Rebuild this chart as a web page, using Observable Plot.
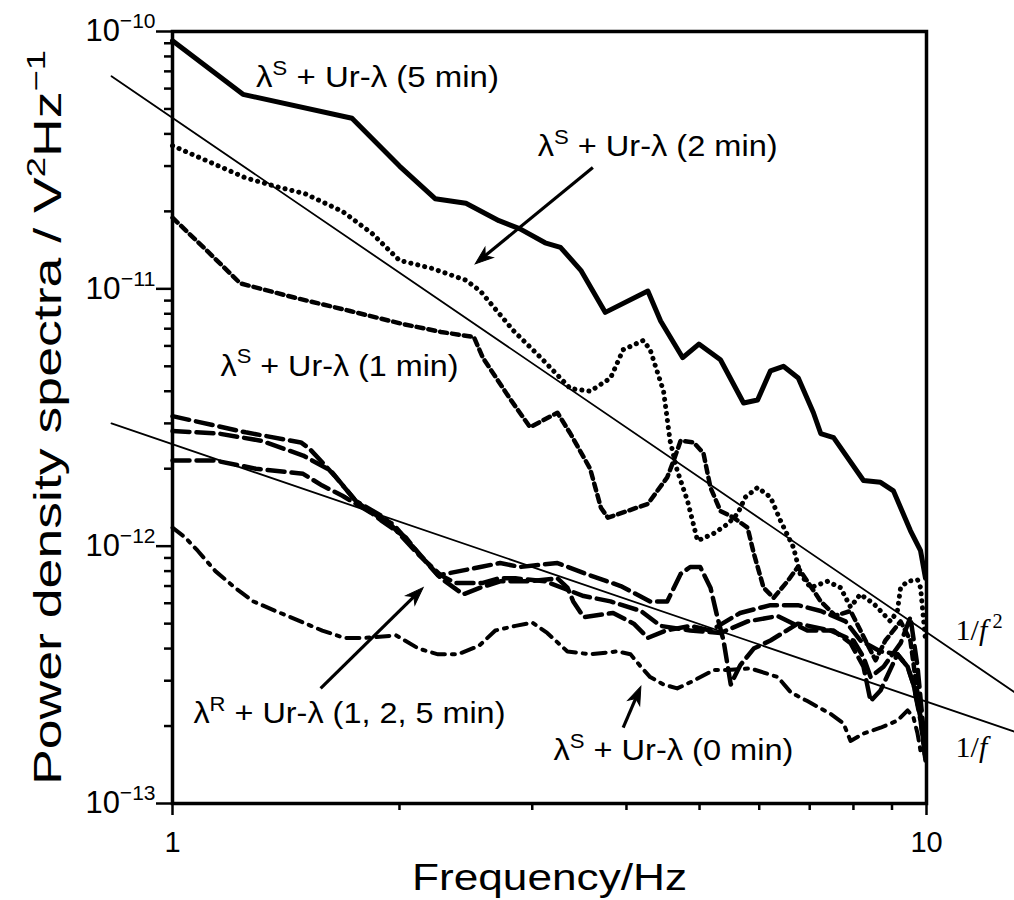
<!DOCTYPE html>
<html><head><meta charset="utf-8">
<script src="https://cdn.jsdelivr.net/npm/d3@7"></script>
<script src="https://cdn.jsdelivr.net/npm/@observablehq/plot@0.6"></script>
<style>
body{margin:0;background:#fff;}
#chart svg{font-family:"Liberation Sans",Arial,sans-serif;background:#fff;}
</style></head><body><div id="chart"></div>
<script>
// ---- data (frequency in Hz, PSD in V^2/Hz) ----
const f5min = [1.00,1.24,1.73,2.00,2.23,2.45,2.71,2.89,3.12,3.27,3.48,3.75,4.27,4.44,4.75,4.99,5.33,5.72,5.97,6.21,6.46,6.76,7.08,7.24,7.53,8.25,8.69,9.04,9.52,9.82,9.97];
const psd5min = [9.2e-11,5.7e-11,4.6e-11,3.0e-11,2.24e-11,2.15e-11,1.84e-11,1.71e-11,1.51e-11,1.45e-11,1.18e-11,8.1e-12,9.8e-12,7.5e-12,5.4e-12,6.1e-12,5.3e-12,3.6e-12,3.7e-12,4.8e-12,5.0e-12,4.5e-12,3.3e-12,2.74e-12,2.64e-12,1.8e-12,1.77e-12,1.64e-12,1.15e-12,9.6e-13,7.5e-13];

const f2min = [1.00,1.25,1.37,1.50,1.68,1.84,2.00,2.21,2.45,2.56,2.83,3.08,3.37,3.58,3.81,3.96,4.21,4.30,4.48,4.57,4.67,4.82,4.97,5.22,5.45,5.62,5.75,5.97,6.21,6.40,6.66,6.80,7.02,7.39,7.69,7.93,8.17,8.51,8.96,9.15,9.24,9.44,9.73,9.82,9.97];
const psd2min = [3.6e-11,2.7e-11,2.5e-11,2.34e-11,2.0e-11,1.64e-11,1.29e-11,1.2e-11,1.08e-11,9.8e-12,6.9e-12,5.4e-12,4.1e-12,4.0e-12,4.5e-12,5.8e-12,6.3e-12,5.8e-12,4.0e-12,2.57e-12,1.97e-12,1.5e-12,1.05e-12,1.12e-12,1.22e-12,1.34e-12,1.55e-12,1.69e-12,1.55e-12,1.26e-12,9.9e-13,7.8e-13,6.9e-13,7.3e-13,6.9e-13,5.8e-13,6.5e-13,5.98e-13,5.1e-13,5.6e-13,6.9e-13,7.3e-13,7.4e-13,6.9e-13,4.3e-13];

const f1min = [1.00,1.11,1.23,1.45,1.72,2.02,2.27,2.51,2.58,2.81,2.98,3.24,3.37,3.58,3.70,3.78,4.27,4.53,4.62,4.72,4.91,5.06,5.17,5.33,5.55,5.79,5.90,6.08,6.27,6.54,6.75,6.95,7.24,7.57,7.93,8.30,8.56,8.82,9.24,9.52,9.76,9.97];
const psd1min = [1.89e-11,1.41e-11,1.05e-11,9.25e-12,8.2e-12,7.3e-12,6.8e-12,6.5e-12,5.4e-12,3.7e-12,2.9e-12,3.3e-12,2.74e-12,2.0e-12,1.41e-12,1.29e-12,1.46e-12,1.85e-12,2.15e-12,2.57e-12,2.53e-12,2.3e-12,1.69e-12,1.37e-12,1.29e-12,1.18e-12,9.4e-13,6.9e-13,6.3e-13,7.3e-13,8.3e-13,7.3e-13,6.1e-13,5.37e-13,5.6e-13,4.3e-13,3.6e-13,4.3e-13,5.1e-13,4.3e-13,2.5e-13,1.47e-13];

const f0min = [1.00,1.04,1.08,1.14,1.21,1.28,1.37,1.49,1.58,1.69,1.80,1.98,2.12,2.25,2.39,2.55,2.68,2.85,3.00,3.14,3.34,3.58,3.89,4.05,4.18,4.30,4.48,4.67,4.91,5.22,5.45,5.84,6.35,6.61,6.95,7.46,7.76,7.93,8.25,8.69,9.15,9.44,9.61,9.73,9.82];
const psd0min = [1.18e-12,1.08e-12,9.6e-13,8.0e-13,6.9e-13,6.1e-13,5.6e-13,5.05e-13,4.7e-13,4.4e-13,4.4e-13,4.5e-13,4.0e-13,3.8e-13,3.8e-13,4.1e-13,4.7e-13,4.9e-13,5.05e-13,4.6e-13,3.9e-13,3.8e-13,3.9e-13,3.8e-13,3.4e-13,3.1e-13,2.9e-13,2.8e-13,3.0e-13,3.3e-13,3.3e-13,3.35e-13,3.1e-13,2.7e-13,2.5e-13,2.23e-13,2.05e-13,1.75e-13,1.87e-13,1.97e-13,2.1e-13,2.3e-13,2.16e-13,1.87e-13,1.6e-13];

const fR1 = [1.00,1.25,1.48,1.52,1.64,1.75,1.89,2.04,2.13,2.25,2.56,2.72,2.89,3.24,3.58,3.93,4.30,4.53,4.72,4.86,5.01,5.17,5.28,5.38,5.50,5.66,5.90,6.21,6.75,7.46,8.00,8.25,8.43,8.77,9.24,9.52,9.73,9.97];
const psdR1 = [3.2e-12,2.77e-12,2.53e-12,2.39e-12,1.88e-12,1.5e-12,1.26e-12,1.08e-12,9.2e-13,7.7e-13,8.3e-13,8.6e-13,8.3e-13,8.6e-13,7.7e-13,7.0e-13,6.1e-13,6.1e-13,7.8e-13,8.3e-13,8.3e-13,6.9e-13,5.3e-13,4.3e-13,2.9e-13,3.44e-13,4.0e-13,4.3e-13,5.0e-13,4.7e-13,4.3e-13,3.7e-13,3.1e-13,3.4e-13,4.2e-13,5.3e-13,3.4e-13,1.6e-13];
const fR2 = [1.00,1.15,1.31,1.49,1.62,1.75,1.91,2.11,2.27,2.37,2.58,2.71,2.85,3.12,3.51,3.81,4.18,4.44,4.86,5.33,5.79,6.35,6.95,7.53,7.93,8.25,8.43,8.69,9.15,9.44,9.61,9.82,9.97];
const psdR2 = [2.8e-12,2.74e-12,2.57e-12,2.25e-12,1.97e-12,1.5e-12,1.29e-12,9.4e-13,7.7e-13,7.2e-13,7.2e-13,7.5e-13,7.5e-13,7.3e-13,6.4e-13,6.1e-13,5.6e-13,4.9e-13,4.7e-13,4.6e-13,5.1e-13,5.35e-13,4.7e-13,4.7e-13,4.2e-13,3.4e-13,2.5e-13,2.75e-13,3.8e-13,3.4e-13,2.9e-13,2.1e-13,1.47e-13];
const fR3 = [1.00,1.14,1.29,1.49,1.58,1.68,1.84,1.96,2.12,2.27,2.43,2.56,2.72,2.98,3.24,3.34,3.40,3.51,3.84,4.09,4.27,4.51,4.86,5.17,5.66,6.21,6.75,7.24,7.81,8.17,8.69,9.15,9.44,9.61,9.97];
const psdR3 = [2.15e-12,2.15e-12,2.0e-12,1.91e-12,1.72e-12,1.57e-12,1.34e-12,1.22e-12,9.4e-13,7.5e-13,6.5e-13,6.9e-13,7.3e-13,7.3e-13,7.5e-13,6.9e-13,6.1e-13,5.3e-13,5.5e-13,5.0e-13,4.4e-13,4.7e-13,4.9e-13,4.7e-13,5.5e-13,5.9e-13,5.9e-13,5.6e-13,5.1e-13,4.3e-13,3.9e-13,3.8e-13,3.4e-13,2.9e-13,1.75e-13];

// reference power-law lines (end points)
const fFit = [0.83, 13.1];
const psdOneOverF = [3.0e-12, 1.9e-13];
const psdOneOverF2 = [6.7e-11, 2.7e-13];

// axis ticks
const yMajor = [1e-13, 1e-12, 1e-11, 1e-10];
const yMinor = [2e-13,3e-13,4e-13,5e-13,6e-13,7e-13,8e-13,9e-13,2e-12,3e-12,4e-12,5e-12,6e-12,7e-12,8e-12,9e-12,2e-11,3e-11,4e-11,5e-11,6e-11,7e-11,8e-11,9e-11];
const xMajor = [1, 10];
const xMinor = [2,3,4,5,6,7,8,9];

// annotations
const curveLabels = ["λ^{S} + Ur-λ (5 min)","λ^{S} + Ur-λ (2 min)","λ^{S} + Ur-λ (1 min)","λ^{R} + Ur-λ (1, 2, 5 min)","λ^{S} + Ur-λ (0 min)"];
const curveLabelF = [1.29, 3.05, 1.158, 1.066, 3.20];
const curveLabelV = [6.6e-11, 3.57e-11, 5.0e-12, 2.23e-13, 1.6e-13];
const fitLabels = ["1/*{f}^{ 2}", "1/*{f}"];
const fitLabelF = [10.93, 10.93];
const fitLabelV = [4.7e-13, 1.65e-13];
const arrowF1 = [3.61, 1.572, 3.96];
const arrowV1 = [2.96e-11, 2.8e-13, 1.97e-13];
const arrowF2 = [2.52, 2.15, 4.18];
const arrowV2 = [1.25e-11, 6.9e-13, 2.85e-13];
const xTitle = "Frequency/Hz";
const yTitle = "Power density spectra / V^{2}Hz^{−1}";

// ---- styling (kept apart from data) ----
const textWidths = {
  "λ^{S} + Ur-λ (5 min)": 243, "λ^{S} + Ur-λ (2 min)": 240, "λ^{S} + Ur-λ (1 min)": 238,
  "λ^{R} + Ur-λ (1, 2, 5 min)": 312, "λ^{S} + Ur-λ (0 min)": 240,
  "Frequency/Hz": 275, "Power density spectra / V^{2}Hz^{−1}": 735,
  "10^{−10}": 70, "10^{−11}": 70, "10^{−12}": 70, "10^{−13}": 70
};
const ML = 172, MR = 88, MT = 31, MB = 97, W = 1014, H = 900;

const rows = (f, v) => f.map((x, i) => ({f: x, v: v[i]}));
const labelRows = curveLabels.map((t, i) => ({t, f: curveLabelF[i], v: curveLabelV[i]}));
const fitRows = fitLabels.map((t, i) => ({t, f: fitLabelF[i], v: fitLabelV[i]}));
const expLabel = d => "10^{−" + Math.round(-Math.log10(d)) + "}";

// arrowheads: filled, notched heads placed at the arrow tips
const sx = Plot.scale({x: {type: "log", domain: [1, 10], range: [ML, W - MR]}});
const sy = Plot.scale({y: {type: "log", domain: [1e-13, 1e-10], range: [H - MB, MT]}});
const HEAD = 10;
const arrowRows = arrowF1.map((_, i) => {
  const x1 = sx.apply(arrowF1[i]), y1 = sy.apply(arrowV1[i]);
  const x2 = sx.apply(arrowF2[i]), y2 = sy.apply(arrowV2[i]);
  const L = Math.hypot(x2 - x1, y2 - y1), ux = (x2 - x1) / L, uy = (y2 - y1) / L;
  return {f1: arrowF1[i], v1: arrowV1[i],
    fc: sx.invert(x2 - ux * HEAD), vc: sy.invert(y2 - uy * HEAD),
    rot: Math.atan2(ux, -uy) * 180 / Math.PI};
});
const headSymbol = {draw(ctx) { ctx.moveTo(0, -HEAD); ctx.lineTo(6.5, 8); ctx.lineTo(0, 3); ctx.lineTo(-6.5, 8); ctx.closePath(); }};

const plot = Plot.plot({
  width: W, height: H,
  marginLeft: ML, marginRight: MR, marginTop: MT, marginBottom: MB,
  x: {type: "log", domain: [1, 10]},
  y: {type: "log", domain: [1e-13, 1e-10]},
  marks: [
    Plot.axisY(yMinor, {tickSize: 8, strokeWidth: 2.5, tickFormat: () => "", label: null}),
    Plot.axisY(yMajor, {tickSize: 16, tickPadding: 1, strokeWidth: 2.5, fontSize: 31, fill: "#000", tickFormat: expLabel, label: null}),
    Plot.axisX(xMinor, {tickSize: 7, strokeWidth: 2.5, tickFormat: () => "", label: null}),
    Plot.axisX(xMajor, {tickSize: 12, tickPadding: 16, strokeWidth: 2.5, fontSize: 29, fill: "#000", tickFormat: d => String(d), label: null}),
    Plot.frame({strokeWidth: 3.5, stroke: "#000"}),
    Plot.line(rows(fFit, psdOneOverF), {x: "f", y: "v", stroke: "#000", strokeWidth: 1.8}),
    Plot.line(rows(fFit, psdOneOverF2), {x: "f", y: "v", stroke: "#000", strokeWidth: 1.8}),
    Plot.line(rows(f0min, psd0min), {x: "f", y: "v", stroke: "#000", strokeWidth: 4, strokeDasharray: "13,7,3,7"}),
    Plot.line(rows(fR1, psdR1), {x: "f", y: "v", stroke: "#000", strokeWidth: 4.5, strokeDasharray: "17,7"}),
    Plot.line(rows(fR2, psdR2), {x: "f", y: "v", stroke: "#000", strokeWidth: 4.5, strokeDasharray: "17,7"}),
    Plot.line(rows(fR3, psdR3), {x: "f", y: "v", stroke: "#000", strokeWidth: 4.5, strokeDasharray: "17,7"}),
    Plot.line(rows(f1min, psd1min), {x: "f", y: "v", stroke: "#000", strokeWidth: 4.5, strokeDasharray: "7,5"}),
    Plot.line(rows(f2min, psd2min), {x: "f", y: "v", stroke: "#000", strokeWidth: 5, strokeDasharray: "0.1,7", strokeLinecap: "round"}),
    Plot.line(rows(f5min, psd5min), {x: "f", y: "v", stroke: "#000", strokeWidth: 5, strokeLinejoin: "round"}),
    Plot.link(arrowRows, {x1: "f1", y1: "v1", x2: "fc", y2: "vc", stroke: "#000", strokeWidth: 3.2}),
    Plot.dot(arrowRows, {x: "fc", y: "vc", symbol: headSymbol, rotate: "rot", fill: "#000", stroke: "#000", strokeWidth: 1, r: 8}),
    Plot.text(labelRows, {x: "f", y: "v", text: "t", textAnchor: "start", fontSize: 29, fill: "#000"}),
    Plot.text(fitRows, {x: "f", y: "v", text: "t", textAnchor: "start", fontSize: 30, fill: "#000", fontFamily: "Liberation Serif"}),
    Plot.text([xTitle], {frameAnchor: "bottom", textAnchor: "middle", lineAnchor: "bottom", dy: 86, fontSize: 36, fill: "#000"}),
    Plot.text([yTitle], {frameAnchor: "left", textAnchor: "middle", dx: -124, rotate: -90, fontSize: 38, fill: "#000"})
  ]
});
document.getElementById("chart").appendChild(plot);

// rich text: ^{..} superscript, *{..} italic; stretched widths to match the reference type
const NS = "http://www.w3.org/2000/svg";
plot.querySelectorAll("text").forEach(t => {
  const s = t.textContent;
  const w = textWidths[s];
  if (/[\^*]\{/.test(s)) {
    const fs = parseFloat(getComputedStyle(t).fontSize) || 16;
    const parts = s.split(/(\^\{[^}]*\}|\*\{[^}]*\})/).filter(p => p !== "");
    t.textContent = "";
    let raised = false;
    for (const p of parts) {
      const ts = document.createElementNS(NS, "tspan");
      if (p.startsWith("^{")) {
        ts.textContent = p.slice(2, -1);
        ts.setAttribute("font-size", (fs * 0.68).toFixed(1));
        if (!raised) { ts.setAttribute("dy", (-0.42 * fs).toFixed(1)); raised = true; }
      } else {
        const it = p.startsWith("*{");
        ts.textContent = it ? p.slice(2, -1) : p;
        if (it) ts.setAttribute("font-style", "italic");
        if (raised) { ts.setAttribute("dy", (0.42 * fs).toFixed(1)); raised = false; }
      }
      t.appendChild(ts);
    }
  }
  if (w) { t.setAttribute("textLength", w); t.setAttribute("lengthAdjust", "spacingAndGlyphs"); }
});
</script></body></html>
